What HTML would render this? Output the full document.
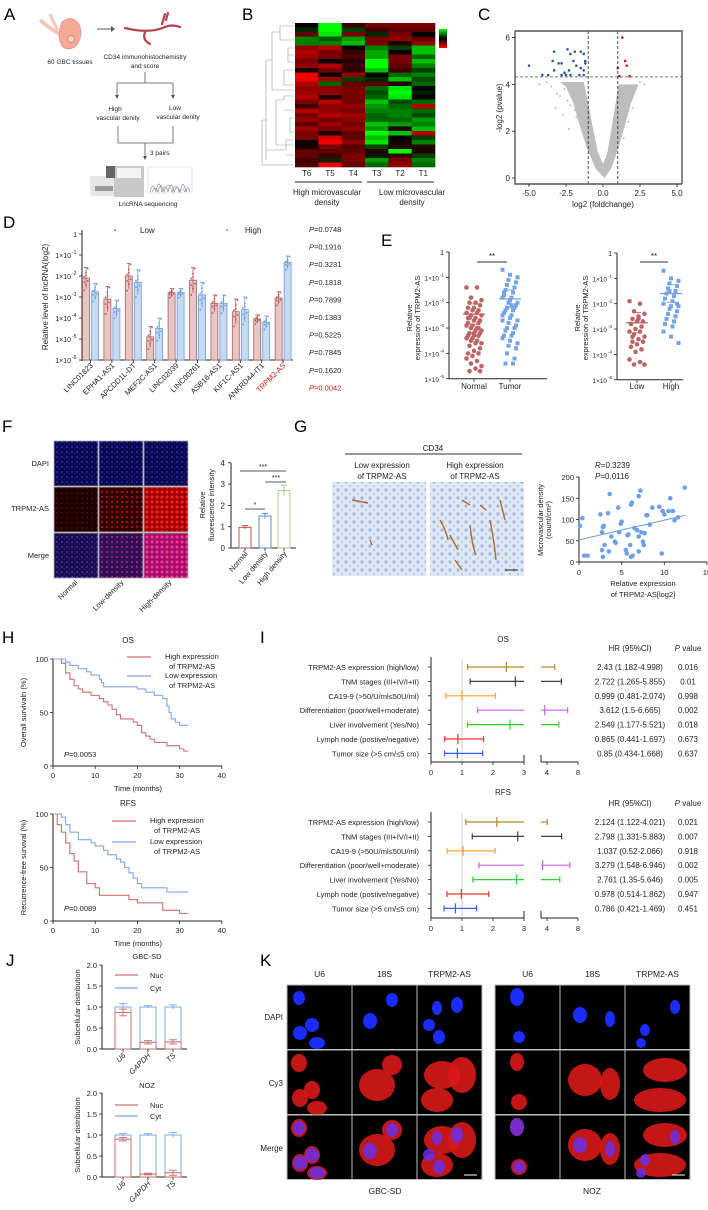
<!DOCTYPE html>
<html><head><meta charset="utf-8">
<style>
html,body{margin:0;padding:0;background:#fff;}
svg{display:block;font-family:"Liberation Sans",Arial,sans-serif;}
</style></head>
<body>
<svg id="fig" width="708" height="1210" viewBox="0 0 708 1210" xmlns="http://www.w3.org/2000/svg">
<defs>
<pattern id="pDapi" width="5" height="5" patternUnits="userSpaceOnUse"><rect width="5" height="5" fill="#08084a"/><circle cx="2" cy="2" r="1" fill="#2a2ac0"/><circle cx="4.5" cy="4" r="0.7" fill="#1c1c90"/></pattern>
<pattern id="pRed1" width="5" height="5" patternUnits="userSpaceOnUse"><rect width="5" height="5" fill="#1c0000"/><circle cx="2" cy="3" r="0.9" fill="#6a0a0a"/></pattern>
<pattern id="pRed2" width="5" height="5" patternUnits="userSpaceOnUse"><rect width="5" height="5" fill="#300000"/><circle cx="2" cy="2" r="1.1" fill="#b01010"/></pattern>
<pattern id="pRed3" width="5" height="5" patternUnits="userSpaceOnUse"><rect width="5" height="5" fill="#a00000"/><circle cx="2" cy="2" r="1.5" fill="#ff2020"/></pattern>
<pattern id="pM1" width="5" height="5" patternUnits="userSpaceOnUse"><rect width="5" height="5" fill="#180c50"/><circle cx="2" cy="2" r="1" fill="#4030b0"/><circle cx="4.5" cy="4" r="0.7" fill="#602050"/></pattern>
<pattern id="pM2" width="5" height="5" patternUnits="userSpaceOnUse"><rect width="5" height="5" fill="#301050"/><circle cx="2" cy="2" r="1.1" fill="#a02090"/></pattern>
<pattern id="pM3" width="5" height="5" patternUnits="userSpaceOnUse"><rect width="5" height="5" fill="#a01060"/><circle cx="2" cy="2" r="1.5" fill="#ff30b0"/></pattern>
<pattern id="pIhc" width="8" height="8" patternUnits="userSpaceOnUse"><rect width="8" height="8" fill="#dfe8f5"/><circle cx="2" cy="2" r="1.6" fill="#9fb8e0"/><circle cx="6" cy="6" r="1.2" fill="#b8cbe8"/></pattern>
</defs>
<g id="root"></g>
</svg>
<script>
// ---------------- DATA ----------------
const heatCols = ["T6","T5","T4","T3","T2","T1"];
const heatRows = [
[0,2,-0.5,-1,-1,-1],[0.3,2,0.5,-0.5,-0.8,-0.8],[-0.8,1.8,-1,0.3,-1,0],[1,0.7,1.2,-1,-1.2,-0.8],
[1,1,1.5,-1,-0.3,-1.2],[-1.2,-1.5,0,1,0.5,1.5],[-1.5,-1,-0.5,1.3,0,1.5],[-1.3,-1,-0.6,1.3,-1,0.8],
[-1,0,-0.3,2,-1,1.5],[-1.2,-1.5,-0.5,2,-0.8,1],[-0.2,-1,-0.4,1.5,-0.5,0.5],[-2,0,-1.2,0,0.8,1],
[-2,-1.3,0.5,0.3,1.5,0.6],[-1.5,0.8,-0.8,-0.7,-0.3,0.8],[-1.2,-1.2,-1,0.8,1.8,0],[-1.3,-1.2,-1,0.6,2,0.2],
[-1.5,-0.3,-1,0.8,1.8,0],[-1,-1.5,-1,1.5,0.6,0.8],[-0.5,-1.2,-1.2,1.2,0.8,-1.5],[-1.5,-1.2,-1,1,1,0.8],
[-1,-1.5,-1.3,0.8,1,0.6],[-1.2,-1,-1.2,0.8,0.8,1.2],[-0.8,-1.3,-1,1.5,1.2,1],[-1.3,-1,-1.2,1.2,-0.3,1.5],
[-1,-0.2,-0.8,2,1.5,-1.5],[-1,-1.8,-0.8,1.5,0,0.5],[-0.1,-2,-1.2,1.8,-0.2,1],[-0.2,-1,-0.7,0.5,-0.3,-0.3],
[-0.8,-0.8,-0.8,-0.3,2,-0.2],[-0.8,-0.5,-1,0.2,-0.5,0.5],[-0.5,0.3,-1,1.2,-1,1],[-0.6,-2,-0.8,0.8,-1.2,0.8]];
const volXTicks = [-5,-2.5,0,2.5,5];
const volYTicks = [0,2,4,6];
const downFC = [-5,-3.3,-2.4,-2.2,-1.9,-1.5,-1.3,-3.4,-3.0,-2.8,-2.6,-2.3,-2.0,-1.8,-1.5,-1.3,-1.2,-1.2,-3.3,-2.5,-2.2,-1.6,-1.3,-3.7,-2.8,-4.1];
const downP  = [4.8,5.4,5.5,5.3,5.4,5.4,5.3,5.0,4.9,4.9,4.5,4.6,5.0,4.8,4.7,4.6,4.9,5.0,4.6,4.4,4.4,4.4,4.4,4.4,4.4,4.4];
const upFC = [1.3,1.5,1.6,1.0,1.8,1.1];
const upP  = [6.0,5.0,4.8,4.7,4.35,4.35];
const nsFC = [-4.3,-3.8,-3.5,-3.1,-2.9,-2.6,-2.4,-2.2,-2.0,-1.9,-1.7,-1.5,-1.4,2.2,2.5,2.8,1.9,1.6,1.5,1.3,1.2,-0.9,0.9,-3.2,-2.7,2.0,1.7,-1.8,-2.3,1.4];
const nsP  = [4.0,4.1,3.9,3.6,3.5,3.8,3.3,3.1,3.4,2.9,3.0,2.6,2.3,3.9,4.1,4.0,3.5,2.8,3.2,2.5,2.2,2.0,1.9,3.0,2.7,3.0,2.4,2.6,2.1,1.7];
const dGenes = ["LINC01823","EPHA1-AS1","APCDD1L-DT","MEF2C-AS1","LINC02039","LINC00261","ASB16-AS1","KIF1C-AS1","ANKRD44-IT1","TRPM2-AS"];
const dLow  = [-2.1,-3.1,-2.0,-4.9,-2.8,-2.2,-3.3,-3.7,-4.05,-3.05];
const dHigh = [-2.75,-3.55,-2.3,-4.5,-2.8,-2.9,-3.3,-3.6,-4.2,-1.35];
const dLowErr  = [0.5,0.6,0.6,0.5,0.2,0.6,0.4,0.6,0.2,0.3];
const dHighErr = [0.4,0.4,0.6,0.5,0.2,0.6,0.4,0.6,0.3,0.3];
const dPvals = ["0.0748","0.1916","0.3231","0.1818","0.7899","0.1383","0.5225","0.7845","0.1620","0.0042"];
const dYTicks = [0,-1,-2,-3,-4,-5,-6];
const eNormal = [-1.4,-1.4,-1.8,-1.9,-2.0,-2.0,-2.1,-2.2,-2.2,-2.3,-2.3,-2.4,-2.4,-2.5,-2.5,-2.6,-2.6,-2.7,-2.7,-2.8,-2.8,-2.9,-2.9,-3.0,-3.0,-3.1,-3.1,-3.2,-3.2,-3.2,-3.3,-3.3,-3.4,-3.4,-3.5,-3.5,-3.6,-3.6,-3.7,-3.8,-3.9,-4.0,-4.0,-4.1,-4.2,-4.3,-4.4,-4.5,-4.6,-4.7,-4.7,-3.3,-2.6,-3.0];
const eTumor = [-0.7,-0.9,-1.0,-1.1,-1.2,-1.3,-1.4,-1.5,-1.6,-1.7,-1.8,-1.8,-1.9,-2.0,-2.0,-2.1,-2.2,-2.2,-2.3,-2.3,-2.4,-2.5,-2.5,-2.6,-2.7,-2.8,-2.9,-3.0,-3.0,-3.1,-3.2,-3.3,-3.3,-3.4,-3.5,-3.6,-3.7,-3.8,-4.0,-4.2,-4.4,-4.4,-1.6,-2.1,-2.7,-1.9];
const eLow = [-1.9,-2.0,-2.3,-2.4,-2.5,-2.6,-2.7,-2.7,-2.8,-2.9,-3.0,-3.1,-3.1,-3.2,-3.3,-3.4,-3.5,-3.5,-3.6,-3.7,-3.8,-3.9,-4.2,-4.3,-4.4,-4.4,-2.6,-3.3];
const eHigh = [-0.7,-1.0,-1.1,-1.2,-1.3,-1.4,-1.5,-1.6,-1.7,-1.8,-1.9,-2.0,-2.1,-2.1,-2.2,-2.3,-2.4,-2.5,-2.6,-2.7,-2.8,-2.9,-3.1,-3.3,-3.55,-1.5,-2.0,-2.4];
const eMeans = [-2.45,-1.85,-2.75,-1.6];
const eYTicks = [0,-1,-2,-3,-4,-5];
const fCats = ["Normal","Low density","High density"];
const fVals = [0.97,1.5,2.7];
const fErr = [0.08,0.12,0.25];
const fYTicks = [0,1,2,3,4];
const gX = [0.1,0.4,0.6,1,2.5,2.7,2.8,2.9,2.7,2.8,3,3.4,3.6,3.8,4.2,4.3,4.6,4.7,4.9,5,5.5,5.6,5.7,5.8,6,6.1,6.2,6.5,6.8,7,7,7.2,7.3,7.5,7.6,7.7,7.9,8,8.3,8.6,9.4,9.7,9.8,10,10.5,10.7,11,11.2,11.6,12.4,7,6.3,3.5,6.1];
const gY = [85,103,15,15,112,70,82,85,28,12,40,115,160,60,48,45,128,70,90,95,28,20,63,65,40,135,140,80,75,155,60,168,70,48,40,68,110,110,88,128,130,20,120,112,120,150,120,98,105,175,25,15,25,12];
const gFit = [52,110];
const gXTicks = [0,5,10,15];
const gYTicks = [0,50,100,150,200];
const osHighT = [0,2,3,4,5,6,7,9,11,12,13,14,15,16,19,20,21,22,23,24,27,30,31,32];
const osHighS = [100,96,87,81,75,72,69,66,63,60,57,53,48,44,41,38,31,28,25,22,19,16,14,14];
const osLowT = [0,3,4,6,8,9,11,11.5,12,20,22,24,26,27,27.5,28,29,30,32];
const osLowS = [100,97,94,91,88,85,81,78,74,72,69,66,63,56,50,44,41,38,38];
const rfsHighT = [0,1,2,3,4,5,6,8,10,11,18,20,26,30,32];
const rfsHighS = [100,90,83,73,63,56,46,35,31,24,20,17,10,7,7];
const rfsLowT = [0,2,3,4,6,9,10,12,13,15,16,17,18,19,20,21,27,32];
const rfsLowS = [100,97,90,83,76,73,70,66,62,58,55,50,45,40,35,31,27,27];
const hXTicks = [0,10,20,30,40];
const hYTicks = [0,50,100];
const iVars = ["TRPM2-AS expression (high/low)","TNM stages (III+IV/I+II)","CA19-9 (>50/U/ml≤50U/ml)","Differentiation (poor/well+moderate)","Liver involvement (Yes/No)","Lymph node (postive/negative)","Tumor size (>5 cm/≤5 cm)"];
const iVarsR = ["TRPM2-AS expression (high/low)","TNM stages (III+IV/I+II)","CA19-9 (>50U/ml≤50U/ml)","Differentiation (poor/well+moderate)","Liver involvement (Yes/No)","Lymph node (postive/negative)","Tumor size (>5 cm/≤5 cm)"];
const osHR = [2.43,2.722,0.999,3.612,2.549,0.865,0.85];
const osLo = [1.182,1.265,0.481,1.5,1.177,0.441,0.434];
const osHi = [4.998,5.855,2.074,6.665,5.521,1.697,1.668];
const osP = ["0.016","0.01","0.998","0.002","0.018","0.673","0.637"];
const rfsHR = [2.124,2.798,1.037,3.279,2.761,0.978,0.786];
const rfsLo = [1.122,1.331,0.52,1.548,1.35,0.514,0.421];
const rfsHi = [4.021,5.883,2.066,6.946,5.646,1.862,1.469];
const rfsP = ["0.021","0.007","0.918","0.002","0.005","0.947","0.451"];
const iColors = ["#b8862b","#404040","#ff9f30","#d060f0","#30d030","#ff3030","#3060ff"];
const jCats = ["U6","GAPDH","TS"];
const jNucSD = [0.87,0.16,0.17];
const jNucSDErr = [0.08,0.04,0.05];
const jCytSDErr = [0.08,0.03,0.05];
const jNucNOZ = [0.9,0.07,0.1];
const jNucNOZErr = [0.04,0.02,0.06];
const jCytNOZErr = [0.04,0.03,0.06];
const jYTicks = [0,0.5,1.0,1.5,2.0];

// ---------------- HELPERS ----------------
const NS = "http://www.w3.org/2000/svg";
const root = document.getElementById('root');
function mk(tag, attrs, parent){
  const e = document.createElementNS(NS, tag);
  for (const k in attrs) e.setAttribute(k, attrs[k]);
  (parent||root).appendChild(e);
  return e;
}
function T(x,y,s,size,anchor,parent,extra){
  const a = {x:x,y:y,"font-size":size||8,"text-anchor":anchor||"start",fill:"#222"};
  if (extra) for (const k in extra) a[k]=extra[k];
  const e = mk('text',a,parent);
  e.textContent = s;
  return e;
}
function G(name){
  const g = mk('g',{});
  
  
  return g;
}
function line(x1,y1,x2,y2,stroke,w,p,extra){
  const a={x1:x1,y1:y1,x2:x2,y2:y2,stroke:stroke||"#222","stroke-width":w||1};
  if(extra) for(const k in extra) a[k]=extra[k];
  return mk('line',a,p);
}

// ---------------- PANEL LETTERS ----------------
const letters = [["A",4,20],["B",242,20],["C",478,20],["D",3,228],["E",381,246],["F",2,432],["G",294,432],["H",2,643],["I",260,643],["J",6,966],["K",260,966]];
const gL = G('panel-letters');
for (const l of letters){
  const t = T(l[1],l[2],l[0],17,"start",gL,{fill:"#000"});
  
  
}

// ---------------- A ----------------
(function(){
  const g = G('panel-a-workflow');
  mk('path',{d:"M40 20 Q52 30 60 34",stroke:"#f2c5bd","stroke-width":4,fill:"none"},g);
  mk('path',{d:"M50 14 Q54 24 58 30",stroke:"#f2c5bd","stroke-width":3,fill:"none"},g);
  const gb = mk('path',{d:"M62 22 Q72 14 79 24 Q84 36 76 46 Q68 52 62 46 Q56 36 62 22Z",fill:"#f7a898",stroke:"#d98a7c","stroke-width":0.6},g);
  
  
  mk('circle',{cx:71,cy:39,r:3.5,fill:"#f4d0c8",stroke:"#c97"},g);
  line(97,29,111,29,"#555",1,g);
  mk('path',{d:"M111 26 L115 29 L111 32Z",fill:"#555"},g);
  const v = mk('path',{d:"M125 28 Q150 34 165 27 Q172 24 180 27 M162 24 L165 14 M166 20 L168 13 M145 32 Q142 40 150 44",stroke:"#b8404a","stroke-width":2.2,fill:"none","stroke-linecap":"round"},g);
  
  
  T(70,64,"60 GBC tissues",6.5,"middle",g);
  T(145,59,"CD34 immunohistochemistry",6.5,"middle",g);
  T(145,68,"and score",6.5,"middle",g);
  line(145,72,145,83,"#555",0.8,g); line(117,83,173,83,"#555",0.8,g);
  line(117,83,117,96,"#555",0.8,g); line(173,83,173,96,"#555",0.8,g);
  mk('path',{d:"M115 95 L117 99 L119 95Z M171 95 L173 99 L175 95Z",fill:"#555"},g);
  T(115,111,"High",6.5,"middle",g); T(118,120,"vascular denity",6.5,"middle",g);
  T(175,110,"Low",6.5,"middle",g); T(178,119,"vascular denity",6.5,"middle",g);
  line(118,126,118,143,"#555",0.8,g); line(173,126,173,143,"#555",0.8,g); line(118,143,173,143,"#555",0.8,g);
  line(145,143,145,157,"#555",0.8,g); mk('path',{d:"M143 156 L145 160 L147 156Z",fill:"#555"},g);
  T(150,155,"3 pairs",6.5,"start",g);
  const sq = mk('g',{},g);
  
  
  mk('rect',{x:90,y:176,width:26,height:20,fill:"#e6e6e6",rx:2},sq);
  mk('rect',{x:95,y:186,width:18,height:5,fill:"#999"},sq);
  mk('rect',{x:114,y:166,width:30,height:31,fill:"#c8c8c8"},sq);
  mk('rect',{x:106,y:166,width:9,height:12,fill:"#666"},sq);
  mk('rect',{x:117,y:168,width:24,height:10,fill:"#f4f4f4"},sq);
  const ch = mk('g',{},g);
  
  
  mk('rect',{x:148,y:167,width:44,height:26,fill:"#fff",stroke:"#ddd","stroke-width":0.6},ch);
  mk('path',{d:"M150 192 Q153 180 156 192 Q159 176 162 192 Q165 182 168 192 Q171 178 174 192 Q177 183 180 192 Q183 177 186 192 Q188 184 190 192",stroke:"#b070c0",fill:"none","stroke-width":0.7},ch);
  mk('path',{d:"M152 192 Q155 184 158 192 Q161 180 164 192 Q168 178 172 192 Q176 180 179 192 Q182 186 185 192",stroke:"#60a060",fill:"none","stroke-width":0.6},ch);
  T(148,206,"LncRNA sequencing",6.5,"middle",g);
})();

// ---------------- B heatmap ----------------
(function(){
  const g = G('panel-b-heatmap');
  const x0=295,x1=435,y0=23,y1=167;
  const cw=(x1-x0)/heatCols.length, rh=(y1-y0)/heatRows.length;
  function col(v){
    if(v>=0){ const gr=Math.min(255,Math.round(v/2*255)); return "rgb(0,"+gr+",0)"; }
    const r=Math.min(240,Math.round(-v/2*240)); return "rgb("+r+",0,0)";
  }
  heatRows.forEach((row,ri)=>{
    row.forEach((v,ci)=>{
      const c = mk('rect',{x:x0+ci*cw,y:y0+ri*rh,width:cw+0.3,height:rh+0.3,fill:col(v)},g);
      
      
    });
  });
  const dg = mk('g',{stroke:"#999","stroke-width":0.6,fill:"none"},g);
  
  
  mk('path',{d:"M262 120 L262 165 L294 165 M262 120 L266 120 M266 60 L266 160 M266 60 L272 60 M272 32 L272 90 L294 90 M272 32 L280 32 M280 26 L280 40 L294 40 M280 26 L294 26 M266 150 L286 150 L286 140 L294 140 M286 155 L294 155 M276 100 L276 145 L294 145 M276 100 L284 100 L284 96 L294 96 M284 110 L294 110 M284 70 L284 85 L294 85 M284 70 L294 70 M288 48 L294 48 M288 55 L294 55 M288 48 L288 62 L294 62 M290 118 L294 118 M290 118 L290 132 L294 132 M292 124 L294 124"},dg);
  const lg = mk('g',{},g);
  
  
  const gd = mk('linearGradient',{id:"hg",x1:0,y1:0,x2:0,y2:1},document.querySelector('defs'));
  mk('stop',{offset:"0",  "stop-color":"#00ff00"},gd); mk('stop',{offset:"0.5","stop-color":"#000"},gd); mk('stop',{offset:"1","stop-color":"#ff0000"},gd);
  mk('rect',{x:439,y:29,width:8,height:19,fill:"url(#hg)"},lg);
  heatCols.forEach((c,i)=>{ const t=T(x0+cw*(i+0.5),176,c,8,"middle",g);   });
  line(295,182,362,182,"#222",1,g); line(367,182,434,182,"#222",1,g);
  T(327,195,"High microvascular",8,"middle",g); T(327,205,"density",8,"middle",g);
  T(412,195,"Low microvascular",8,"middle",g); T(412,205,"density",8,"middle",g);
})();

// ---------------- C volcano ----------------
(function(){
  const g = G('panel-c-volcano');
  const vx=v=>603+v*14.8, vy=v=>178-v*23.4;
  const P=(a,b)=>vx(a)+" "+vy(b);
  const cloud = mk('path',{d:
    "M"+P(0.1,0)+" L"+P(-0.5,0.4)+" L"+P(-1.1,1.3)+" L"+P(-1.6,2.3)+" L"+P(-2.0,3.2)+" L"+P(-2.5,3.9)+" L"+P(-2.9,4.1)+" L"+P(-1.3,4.1)+" L"+P(-1.0,3.2)+" L"+P(-0.7,2.2)+" L"+P(-0.35,1.1)+" L"+P(0,0.6)+" L"+P(0.3,1.1)+" L"+P(0.6,2.2)+" L"+P(0.85,3.2)+" L"+P(1.05,4.0)+" L"+P(2.4,4.0)+" L"+P(1.9,3.2)+" L"+P(1.5,2.3)+" L"+P(1.05,1.3)+" L"+P(0.55,0.4)+" Z",
    fill:"#bdbdbd"},g);
  
  
  for(let i=0;i<nsFC.length;i++){
    const c=mk('circle',{cx:vx(nsFC[i]),cy:vy(nsP[i]),r:1,fill:"#bdbdbd"},g);
    
    
  }
  for(let i=0;i<downFC.length;i++){
    const c=mk('circle',{cx:vx(downFC[i]),cy:vy(downP[i]),r:1.3,fill:"#2b5c99"},g);
    
    
  }
  for(let i=0;i<upFC.length;i++){
    const c=mk('circle',{cx:vx(upFC[i]),cy:vy(upP[i]),r:1.3,fill:"#e01010"},g);
    
    
  }
  line(vx(-1),31,vx(-1),184,"#222",0.8,g,{"stroke-dasharray":"3,2"});
  line(vx(1),31,vx(1),184,"#222",0.8,g,{"stroke-dasharray":"3,2"});
  line(515,vy(4.32),682,vy(4.32),"#555",0.8,g,{"stroke-dasharray":"3,2"});
  const fr = mk('path',{d:"M515 31 L682 31 L682 184 M515 31 L515 184 L682 184",fill:"none",stroke:"#555","stroke-width":1.4},g);
  
  
  volYTicks.forEach(v=>{ line(512,vy(v),515,vy(v),"#222",0.8,g); T(510,vy(v)+3,String(v),8,"end",g); });
  volXTicks.forEach(v=>{ line(vx(v),184,vx(v),187,"#222",0.8,g); T(vx(v),196,v.toFixed(1),8,"middle",g); });
  T(603,207,"log2 (foldchange)",8,"middle",g);
  T(0,0,"-log2 (pvalue)",8,"middle",g,{transform:"translate(502,108) rotate(-90)"});
})();

// ---------------- D bars ----------------
(function(){
  const g = G('panel-d-bar-chart');
  const yD=l=>234-l*21, cx=i=>90.5+i*21.4;
  dYTicks.forEach(l=>{
    line(79,yD(l),82,yD(l),"#222",0.8,g);
    const lbl = l===0?"1":"1×10";
    T(77-(l===0?0:6),yD(l)+3,lbl,7,"end",g);
    if(l!==0) T(72,yD(l)-1,String(l),5,"start",g);
  });
  line(82,230,82,361,"#222",1,g); line(82,360,293,360,"#222",1,g);
  T(0,0,"Relative level of lncRNA(log2)",8,"middle",g,{transform:"translate(48,297) rotate(-90)"});
  const offs=[-0.9,-0.5,-0.2,0.1,0.4,0.7,-0.3,0.2];
  dGenes.forEach((gn,i)=>{
    [[dLow,dLowErr,-4.5,"#e7c6c6","#b35c5c"],[dHigh,dHighErr,4.5,"#c9d9f1","#6d9cdb"]].forEach(s=>{
      const x=cx(i)+s[2], v=s[0][i];
      const b=mk('rect',{x:x-3.5,y:yD(v),width:7,height:360-yD(v),fill:s[3],stroke:s[4],"stroke-width":0.8},g);
      
      
      const e=s[1][i];
      line(x,yD(v+e),x,yD(v-e),s[4],0.8,g); line(x-2,yD(v+e),x+2,yD(v+e),s[4],0.8,g);
      offs.forEach((o,k)=>{
        const d=mk('circle',{cx:x+((k%3)-1)*1.8,cy:yD(v+o*e*1.3),r:0.9,fill:s[4]},g);
        
        
      });
    });
    line(cx(i),360,cx(i),363,"#222",0.8,g);
    const t=T(0,0,gn,7.5,"end",g,{transform:"translate("+(cx(i)+3)+",366) rotate(-45)",fill:i===9?"#e01010":"#222"});
    
    
  });
  mk('circle',{cx:115,cy:230,r:1,fill:"#b35c5c"},g); T(140,233,"Low",8,"start",g);
  mk('circle',{cx:227,cy:230,r:1,fill:"#6d9cdb"},g); T(245,233,"High",8,"start",g);
  dPvals.forEach((p,i)=>{
    const t=mk('text',{x:309,y:232+i*17.6,"font-size":7.5,fill:i===9?"#e01010":"#222"},g);
    t.innerHTML='<tspan font-style="italic">P</tspan>='+p;
    
    
  });
})();

// ---------------- E scatter ----------------
(function(){
  function plot(ax, xEnd, yTop, c1, c2, a, b, m1, m2, lab1, lab2, name){
    const g=G(name);
    const ey=l=>yTop-l*25.35;
    eYTicks.forEach(l=>{
      line(ax-3,ey(l),ax,ey(l),"#222",0.8,g);
      if(l===0) T(ax-5,ey(l)+3,"1",7,"end",g);
      else { T(ax-10,ey(l)+3,"1×10",6.5,"end",g); T(ax-9,ey(l)-1,String(l),4.5,"start",g); }
    });
    line(ax,ey(0),ax,ey(-5),"#222",1,g); line(ax,ey(-5),xEnd,ey(-5),"#222",1,g);
    line(c1,ey(-5),c1,ey(-5)+3,"#222",0.8,g); line(c2,ey(-5),c2,ey(-5)+3,"#222",0.8,g);
    T(c1,389,lab1,8,"middle",g); T(c2,389,lab2,8,"middle",g);
    a.forEach((v,i)=>{
      const d=mk('circle',{cx:c1+(((i*7)%11)-5)*1.5,cy:ey(v),r:2.3,fill:"#bd6464"},g);
      
      
    });
    b.forEach((v,i)=>{
      const d=mk('rect',{x:c2+(((i*5)%11)-5)*1.5-2,y:ey(v)-2,width:4,height:4,fill:"#76a3e4"},g);
      
      
    });
    line(c1-11,ey(m1),c1+11,ey(m1),"#bd6464",1.3,g); line(c2-11,ey(m2),c2+11,ey(m2),"#76a3e4",1.3,g);
    line(c1-4,ey(m1+0.4),c1+4,ey(m1+0.4),"#bd6464",0.9,g); line(c1-4,ey(m1-0.4),c1+4,ey(m1-0.4),"#bd6464",0.9,g);
    line(c2-4,ey(m2+0.35),c2+4,ey(m2+0.35),"#76a3e4",0.9,g); line(c2-4,ey(m2-0.35),c2+4,ey(m2-0.35),"#76a3e4",0.9,g);
    line(c1+3,262,c2-3,262,"#333",1,g); T((c1+c2)/2,259,"**",8,"middle",g);
    T(0,0,"Relative",7.5,"middle",g,{transform:"translate("+(ax-37)+",318) rotate(-90)"});
    T(0,0,"expression of TRPM2-AS",7.5,"middle",g,{transform:"translate("+(ax-29)+",318) rotate(-90)"});
  }
  plot(449,547,252,474,510,eNormal,eTumor,eMeans[0],eMeans[1],"Normal","Tumor",'panel-e-normal-vs-tumor');
  plot(617,683,253,637,671,eLow,eHigh,eMeans[2],eMeans[3],"Low","High",'panel-e-low-vs-high');
})();

// ---------------- F ----------------
(function(){
  const g=G('panel-f-fluorescence');
  const cols=[54,99,144], rows=[441,487,533];
  const fills=[["url(#pDapi)","url(#pDapi)","url(#pDapi)"],["url(#pRed1)","url(#pRed2)","url(#pRed3)"],["url(#pM1)","url(#pM2)","url(#pM3)"]];
  rows.forEach((y,ri)=>cols.forEach((x,ci)=>{
    const r=mk('rect',{x:x,y:y,width:44,height:45,fill:fills[ri][ci],stroke:"#aaa","stroke-width":0.8},g);
    
    
  }));
  T(49,466,"DAPI",7.5,"end",g); T(49,511,"TRPM2-AS",7.5,"end",g); T(49,558,"Merge",7.5,"end",g);
  T(0,0,"Normal",7.5,"end",g,{transform:"translate(78,583) rotate(-45)"});
  T(0,0,"Low-density",7.5,"end",g,{transform:"translate(124,583) rotate(-45)"});
  T(0,0,"High-density",7.5,"end",g,{transform:"translate(172,583) rotate(-45)"});
  const fy=v=>548-v*21.3, fx=[245,265,284], cs=["#c05050","#5b8fd6","#a8d08d"];
  line(231,fy(4),231,548,"#222",1,g); line(231,548,296,548,"#222",1,g);
  fYTicks.forEach(v=>{ line(228,fy(v),231,fy(v),"#222",0.8,g); T(225,fy(v)+3,String(v),8,"end",g); });
  fCats.forEach((c,i)=>{
    const b=mk('rect',{x:fx[i]-6,y:fy(fVals[i]),width:12,height:548-fy(fVals[i]),fill:"#fff",stroke:cs[i],"stroke-width":1},g);
    
    
    line(fx[i],fy(fVals[i]+fErr[i]),fx[i],fy(fVals[i]-fErr[i]),cs[i],1,g);
    line(fx[i]-3,fy(fVals[i]+fErr[i]),fx[i]+3,fy(fVals[i]+fErr[i]),cs[i],1,g);
    line(fx[i],548,fx[i],551,"#222",0.8,g);
    T(0,0,c,7.5,"end",g,{transform:"translate("+(fx[i]+3)+",554) rotate(-50)"});
  });
  line(240,471,286,471,"#222",0.8,g); T(263,469,"***",7,"middle",g);
  line(265,482,286,482,"#222",0.8,g); T(276,480,"***",7,"middle",g);
  line(245,509,265,509,"#222",0.8,g); T(255,507,"*",7,"middle",g);
  T(0,0,"Relative",7.5,"middle",g,{transform:"translate(205,505) rotate(-90)"});
  T(0,0,"fluorescence intensity",7.5,"middle",g,{transform:"translate(214,505) rotate(-90)"});
})();

// ---------------- G ----------------
(function(){
  const g=G('panel-g-ihc-correlation');
  line(345,454,522,454,"#333",1,g); T(433,451,"CD34",8,"middle",g);
  T(382,468,"Low expression",8,"middle",g); T(382,479,"of TRPM2-AS",8,"middle",g);
  T(475,468,"High expression",8,"middle",g); T(475,479,"of TRPM2-AS",8,"middle",g);
  const i1=mk('rect',{x:332,y:482,width:94,height:94,fill:"url(#pIhc)"},g);
   
  const i2=mk('rect',{x:430,y:482,width:94,height:94,fill:"url(#pIhc)"},g);
   
  mk('path',{d:"M352 500 L368 503 M370 540 L372 545",stroke:"#b06a30","stroke-width":1.4,fill:"none"},g);
  mk('path',{d:"M440 520 Q446 530 448 540 M450 535 L458 550 M470 525 Q472 545 476 555 M490 520 Q494 540 496 560 M480 505 L486 510 M462 500 L470 505 M500 500 L505 520 M455 560 L462 570",stroke:"#b06a30","stroke-width":1.4,fill:"none"},g);
  line(505,570,518,570,"#222",1,g);
  const sx=v=>579+v*8.53, sy=v=>562-v*0.425;
  line(579,sy(200),579,562,"#222",1,g); line(579,562,707,562,"#222",1,g);
  gYTicks.forEach(v=>{ line(576,sy(v),579,sy(v),"#222",0.8,g); T(574,sy(v)+3,String(v),7.5,"end",g); });
  gXTicks.forEach(v=>{ line(sx(v),562,sx(v),565,"#222",0.8,g); T(sx(v),575,String(v),7.5,"middle",g); });
  gX.forEach((x,i)=>{
    const d=mk('circle',{cx:sx(x),cy:sy(gY[i]),r:2.3,fill:"#6f9fe6"},g);
    
    
  });
  const fl=line(sx(0),sy(gFit[0]),sx(12.5),sy(gFit[1]),"#6f9fe6",1.1,g);
  
  
  const r=mk('text',{x:595,y:468,"font-size":8,fill:"#222"},g); r.innerHTML='<tspan font-style="italic">R</tspan>=0.3239';
  const p=mk('text',{x:595,y:479,"font-size":8,fill:"#222"},g); p.innerHTML='<tspan font-style="italic">P</tspan>=0.0116';
  T(643,586,"Relative expression",7.5,"middle",g); T(643,597,"of TRPM2-AS[log2]",7.5,"middle",g);
  T(0,0,"Microvascular density",7.5,"middle",g,{transform:"translate(543,520) rotate(-90)"});
  T(0,0,"(count/cm²)",7.5,"middle",g,{transform:"translate(551,520) rotate(-90)"});
})();

// ---------------- H ----------------
(function(){
  function km(y0, title, tY, hT,hS,lT,lS, ylab, pTxt, pY, legY, legX, name){
    const g=G(name);
    const hx=t=>53+t*4.22, hy=s=>y0-s*1.07;
    T(128,tY,title,8,"middle",g);
    line(53,hy(100),53,hy(0),"#222",1,g); line(53,hy(0),222,hy(0),"#222",1,g);
    hYTicks.forEach(v=>{ line(50,hy(v),53,hy(v),"#222",0.8,g); T(48,hy(v)+3,String(v),7.5,"end",g); });
    hXTicks.forEach(v=>{ line(hx(v),hy(0),hx(v),hy(0)+3,"#222",0.8,g); T(hx(v),hy(0)+12,String(v),7.5,"middle",g); });
    T(138,hy(0)+25,"Time (months)",7.5,"middle",g);
    T(0,0,ylab,7.5,"middle",g,{transform:"translate(26,"+(hy(50))+") rotate(-90)"});
    function step(ts,ss){ let d="M"+hx(ts[0])+" "+hy(ss[0]); for(let i=1;i<ts.length;i++){ d+=" H"+hx(ts[i])+" V"+hy(ss[i]); } return d; }
    const a=mk('path',{d:step(hT,hS),fill:"none",stroke:"#d07070","stroke-width":1.1},g);
     
    const b=mk('path',{d:step(lT,lS),fill:"none",stroke:"#7fa8e6","stroke-width":1.1},g);
     
    const pt=mk('text',{x:64,y:pY,"font-size":7.5,fill:"#222"},g); pt.innerHTML='<tspan font-style="italic">P</tspan>='+pTxt;
    const lg=mk('g',{},g);
     
    line(legX,legY[0],legX+24,legY[0],"#d07070",1.2,lg);
    line(legX,legY[1],legX+24,legY[1],"#7fa8e6",1.2,lg);
    T(legX+38,legY[0]+2,"High expression",7.5,"start",lg); T(legX+42,legY[0]+12,"of TRPM2-AS",7.5,"start",lg);
    T(legX+38,legY[1]+2,"Low expression",7.5,"start",lg); T(legX+42,legY[1]+12,"of TRPM2-AS",7.5,"start",lg);
  }
  km(766,"OS",643,osHighT,osHighS,osLowT,osLowS,"Overall survivaln (%)","0.0053",757,[657,676],127,'panel-h-os-curve');
  km(921,"RFS",806,rfsHighT,rfsHighS,rfsLowT,rfsLowS,"Recurrence-free survival (%)","0.0089",911,[821,842],112,'panel-h-rfs-curve');
})();

// ---------------- I ----------------
(function(){
  function forest(rowY0, axisY, title, titleY, hdrY, labels, hr, lo, hi, pv, name){
    const g=G(name);
    const fx=v=> v<=3 ? 431+v*31 : (v<4 ? 541+(v-3)*6 : 547+(v-4)*7.75);
    T(503,titleY,title,8,"middle",g);
    T(630,hdrY,"HR (95%CI)",8,"middle",g);
    const ph=mk('text',{x:688,y:hdrY,"font-size":8,"text-anchor":"middle",fill:"#222"},g); ph.innerHTML='<tspan font-style="italic">P</tspan> value';
    line(431,rowY0-10,431,axisY,"#222",1,g);
    line(fx(1),rowY0-8,fx(1),axisY,"#ddd",1.5,g);
    line(431,axisY,524,axisY,"#222",1,g); line(541,axisY,578,axisY,"#222",1,g);
    line(524,axisY-7,524,axisY,"#222",1,g); line(541,axisY-7,541,axisY,"#222",1,g);
    [0,1,2,3].forEach(v=>{ line(fx(v),axisY,fx(v),axisY+3,"#222",0.8,g); T(fx(v),axisY+13,String(v),7.5,"middle",g); });
    [4,8].forEach(v=>{ line(fx(v),axisY,fx(v),axisY+3,"#222",0.8,g); T(fx(v),axisY+13,String(v),7.5,"middle",g); });
    labels.forEach((lab,i)=>{
      const y=rowY0+i*14.4, c=iColors[i];
      line(428,y,431,y,"#222",0.8,g);
      T(419,y+3,lab,7.5,"end",g);
      const s1=Math.min(hi[i],3);
      const seg=line(fx(lo[i]),y,fx(s1),y,c,1.2,g);
       
      line(fx(lo[i]),y-3,fx(lo[i]),y+3,c,1.2,g);
      if(hi[i]>3){ line(541,y,fx(hi[i]),y,c,1.2,g); }
      line(fx(hi[i]),y-3,fx(hi[i]),y+3,c,1.2,g);
      const m=line(fx(hr[i]),y-5,fx(hr[i]),y+5,c,1.2,g);
       
      T(630,y+3,hr[i]+" ("+lo[i]+"-"+hi[i]+")",8,"middle",g);
      T(688,y+3,pv[i],8,"middle",g);
    });
  }
  forest(667,762,"OS",642,651,iVars,osHR,osLo,osHi,osP,'panel-i-forest-os');
  forest(822,918,"RFS",795,806,iVarsR,rfsHR,rfsLo,rfsHi,rfsP,'panel-i-forest-rfs');
})();

// ---------------- J ----------------
(function(){
  function jplot(y0, scale, title, titleY, nuc, nucErr, cytErr, legY, name){
    const g=G(name);
    const jy=v=>y0-v*scale, xs=[123,148,173];
    T(147,titleY,title,7.5,"middle",g);
    line(102,jy(2),102,y0,"#222",1,g); line(102,y0,187,y0,"#222",1,g);
    jYTicks.forEach(v=>{ line(99,jy(v),102,jy(v),"#222",0.8,g); T(97,jy(v)+3,v.toFixed(1),7.5,"end",g); });
    jCats.forEach((c,i)=>{
      const cb=mk('rect',{x:xs[i]-8,y:jy(1),width:16,height:jy(nuc[i])-jy(1),fill:"#fff",stroke:"#7fa8e6","stroke-width":1},g);
       
      const nb=mk('rect',{x:xs[i]-8,y:jy(nuc[i]),width:16,height:y0-jy(nuc[i]),fill:"#fff",stroke:"#c87070","stroke-width":1},g);
       
      line(xs[i],jy(1+cytErr[i]),xs[i],jy(1-cytErr[i]),"#7fa8e6",0.9,g);
      line(xs[i]-4,jy(1+cytErr[i]),xs[i]+4,jy(1+cytErr[i]),"#7fa8e6",0.9,g);
      line(xs[i],jy(nuc[i]+nucErr[i]),xs[i],jy(nuc[i]-nucErr[i]),"#c87070",0.9,g);
      line(xs[i]-4,jy(nuc[i]+nucErr[i]),xs[i]+4,jy(nuc[i]+nucErr[i]),"#c87070",0.9,g);
      line(xs[i]-4,jy(nuc[i]-nucErr[i]),xs[i]+4,jy(nuc[i]-nucErr[i]),"#c87070",0.9,g);
      line(xs[i],y0,xs[i],y0+3,"#222",0.8,g);
      T(0,0,c,7.5,"end",g,{transform:"translate("+(xs[i]+3)+","+(y0+7)+") rotate(-45)","font-style":"italic"});
    });
    line(115,legY[0],138,legY[0],"#c87070",1.2,g); T(150,legY[0]+3,"Nuc",7.5,"start",g);
    line(115,legY[1],138,legY[1],"#7fa8e6",1.2,g); T(150,legY[1]+3,"Cyt",7.5,"start",g);
    T(0,0,"Subcellular distribution",7.5,"middle",g,{transform:"translate(80,"+jy(1)+") rotate(-90)"});
  }
  jplot(1049,42,"GBC-SD",959,jNucSD,jNucSDErr,jCytSDErr,[975,988],'panel-j-gbc-sd');
  jplot(1177,42,"NOZ",1088,jNucNOZ,jNucNOZErr,jCytNOZErr,[1105,1116],'panel-j-noz');
})();

// ---------------- K ----------------
(function(){
  const g=G('panel-k-fish-images');
  const groups=[287,495], cw=65, rows=[985,1050,1115], rh=64.5;
  const heads=["U6","18S","TRPM2-AS"];
  const nuclei=[
    [[[12,13,6,7],[25,40,7,7],[13,48,7,7],[30,58,8,6]],[[40,15,6,7],[18,36,7,8]],[[20,23,5,7],[40,20,6,8],[12,40,6,6],[22,52,6,7]]],
    [[[22,12,7,9],[24,52,6,6]],[[20,30,7,8],[50,34,5,8]],[[50,22,5,7],[20,45,5,6],[16,58,5,5]]]];
  const cyto=[
    [[[12,13,8,9],[25,40,8,9],[13,48,8,9],[30,58,10,7]],[[40,15,10,10],[25,35,18,16]],[[25,25,18,14],[45,25,14,18],[20,50,16,12]]],
    [[[22,12,7,9],[24,52,8,8]],[[25,30,17,16],[50,34,10,16]],[[40,20,22,12],[35,50,26,12]]]];
  groups.forEach((gx,gi)=>{
    heads.forEach((h,ci)=>T(gx+cw*(ci+0.5),977,h,8.5,"middle",g));
    rows.forEach((ry,ri)=>{
      heads.forEach((h,ci)=>{
        const x=gx+ci*cw;
        const t=mk('rect',{x:x,y:ry,width:cw,height:rh,fill:"#000",stroke:"#bbb","stroke-width":1},g);
         
        if(ri>=1) cyto[gi][ci].forEach(n=>mk('ellipse',{cx:x+n[0],cy:ry+n[1],rx:n[2],ry:n[3],fill:"#d81818",opacity:0.9},g));
        if(ri!==1) nuclei[gi][ci].forEach(n=>mk('ellipse',{cx:x+n[0],cy:ry+n[1],rx:n[2],ry:n[3],fill:ri===0?"#1a2cff":"#6a30e8",opacity:ri===0?1:0.85},g));
      });
    });
    line(gx+3*cw-18,1175,gx+3*cw-5,1175,"#fff",1,g);
  });
  T(283,1020,"DAPI",8,"end",g); T(283,1086,"Cy3",8,"end",g); T(283,1151,"Merge",8,"end",g);
  T(385,1194,"GBC-SD",8.5,"middle",g); T(592,1194,"NOZ",8.5,"middle",g);
})();
</script>
</body></html>
